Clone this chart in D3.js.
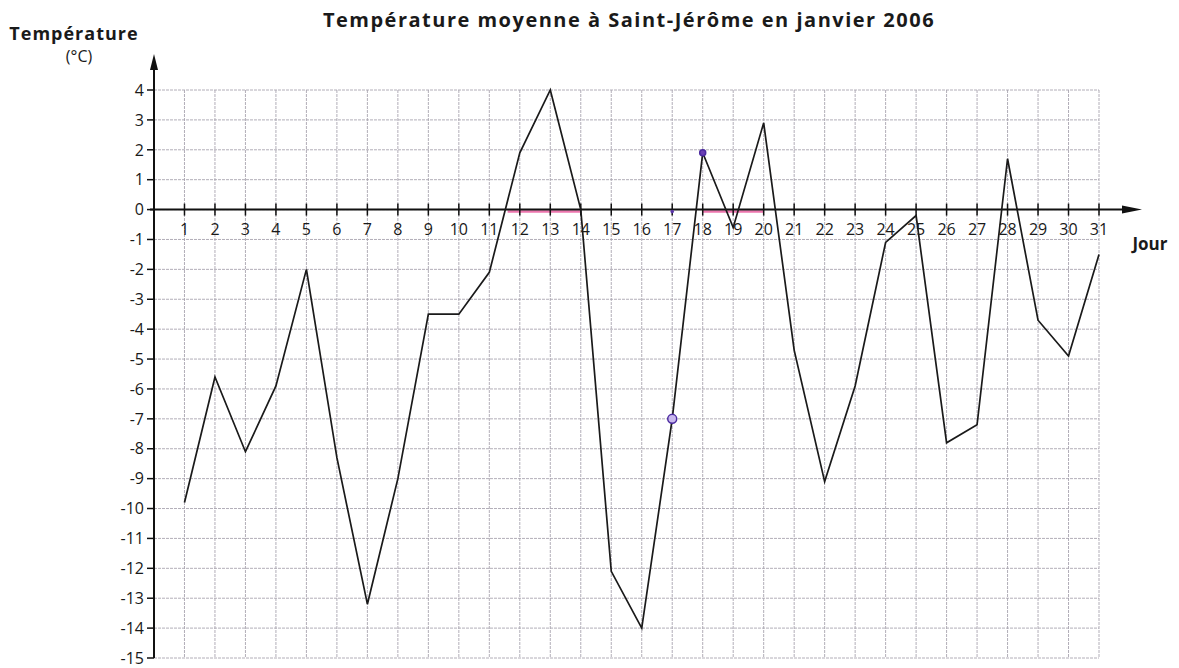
<!DOCTYPE html>
<html>
<head>
<meta charset="utf-8">
<script src="https://cdn.jsdelivr.net/npm/d3@7"></script>
<style>
  body { margin: 0; background: #fff; }
  svg { display: block; }
  text { font-family: "Open Sans", "DejaVu Sans", sans-serif; fill: #1a1a1a; }
</style>
</head>
<body>
<div id="chart"></div>
<script>
// jours du mois de janvier 2006
const days = d3.range(1, 32);
// température moyenne (°C)
const temps = [-9.8, -5.6, -8.1, -5.9, -2.0, -8.3, -13.2, -9.0, -3.5, -3.5,
  -2.1, 1.9, 4.0, 0.0, -12.1, -14.0, -7.0, 1.9, -0.6, 2.9,
  -4.7, -9.1, -5.9, -1.1, -0.2, -7.8, -7.2, 1.7, -3.7, -4.9, -1.5];
const yTicks = d3.range(-15, 5);
// traits de surligneur sur l'axe des jours
const highlights = [[11.6, 14], [18, 20]];
// points entourés
const marked = [{ day: 17, t: -7 }, { day: 18, t: 1.9 }];

const width = 1179, height = 668;
const svg = d3.select("#chart").append("svg")
  .attr("width", width).attr("height", height);

const x = d3.scaleLinear().domain([0, 31]).range([154, 1099]);
const y = d3.scaleLinear().domain([-15, 4]).range([658, 90]);

// quadrillage
const grid = svg.append("g")
  .attr("stroke", "#a9a5b0")
  .attr("stroke-width", 0.9)
  .attr("stroke-dasharray", "3,1");
grid.selectAll("line.h").data(yTicks).join("line")
  .attr("class", "h")
  .attr("x1", x(0)).attr("x2", x(31))
  .attr("y1", d => y(d)).attr("y2", d => y(d));
grid.selectAll("line.v").data(days).join("line")
  .attr("class", "v")
  .attr("x1", d => x(d)).attr("x2", d => x(d))
  .attr("y1", y(4)).attr("y2", y(-15));

// surligneur rose
svg.append("g").selectAll("line").data(highlights).join("line")
  .attr("x1", d => x(d[0])).attr("x2", d => x(d[1]))
  .attr("y1", y(0) + 2).attr("y2", y(0) + 2)
  .attr("stroke", "#e8559a").attr("stroke-width", 2.5).attr("opacity", 0.8);

// axe vertical
svg.append("line")
  .attr("x1", x(0)).attr("x2", x(0))
  .attr("y1", y(-15)).attr("y2", 62)
  .attr("stroke", "#111").attr("stroke-width", 2);
svg.append("path")
  .attr("d", `M${x(0) - 4},${70} L${x(0)},${54} L${x(0) + 4},${70} Z`)
  .attr("fill", "#111");

const yAxis = svg.append("g");
yAxis.selectAll("line").data(yTicks).join("line")
  .attr("x1", x(0) - 7).attr("x2", x(0))
  .attr("y1", d => y(d)).attr("y2", d => y(d))
  .attr("stroke", "#111").attr("stroke-width", 1.5);
yAxis.selectAll("text").data(yTicks).join("text")
  .attr("x", x(0) - 10).attr("y", d => y(d))
  .attr("dy", "0.36em")
  .attr("text-anchor", "end")
  .attr("font-size", 16)
  .text(d => d);

// axe horizontal
svg.append("line")
  .attr("x1", x(0) - 4).attr("x2", 1130)
  .attr("y1", y(0)).attr("y2", y(0))
  .attr("stroke", "#111").attr("stroke-width", 2);
svg.append("path")
  .attr("d", `M1122,${y(0) - 4} L1142,${y(0)} L1122,${y(0) + 4} Z`)
  .attr("fill", "#111");

const xAxis = svg.append("g");
xAxis.selectAll("line").data(days).join("line")
  .attr("x1", d => x(d)).attr("x2", d => x(d))
  .attr("y1", y(0) - 6).attr("y2", y(0) + 6)
  .attr("stroke", "#111").attr("stroke-width", 1.5);
xAxis.selectAll("text").data(days).join("text")
  .attr("x", d => x(d)).attr("y", y(0) + 25)
  .attr("text-anchor", "middle")
  .attr("font-size", 16)
  .text(d => d);

// courbe des températures
const line = d3.line()
  .x((d, i) => x(days[i]))
  .y(d => y(d));
svg.append("path")
  .datum(temps)
  .attr("d", line)
  .attr("fill", "none")
  .attr("stroke", "#1a1a1a")
  .attr("stroke-width", 1.7)
  .attr("stroke-linejoin", "miter");

// points marqués
svg.append("g").selectAll("circle").data(marked).join("circle")
  .attr("cx", d => x(d.day)).attr("cy", d => y(d.t))
  .attr("r", (d, i) => i === 0 ? 4.5 : 3)
  .attr("fill", (d, i) => i === 0 ? "#c9b8ee" : "#6a3fb5")
  .attr("stroke", "#4b2aa0").attr("stroke-width", 1.5);
svg.append("circle")
  .attr("cx", x(17)).attr("cy", y(0) + 2).attr("r", 1.8)
  .attr("fill", "#5b35a8");

// titres
svg.append("text")
  .attr("x", 629).attr("y", 27)
  .attr("text-anchor", "middle")
  .attr("font-size", 20).attr("font-weight", "bold")
  .attr("letter-spacing", 1.5)
  .text("Température moyenne à Saint-Jérôme en janvier 2006");
svg.append("text")
  .attr("x", 74).attr("y", 40)
  .attr("text-anchor", "middle")
  .attr("font-size", 18).attr("font-weight", "bold")
  .attr("letter-spacing", 1)
  .text("Température");
svg.append("text")
  .attr("x", 79).attr("y", 62)
  .attr("text-anchor", "middle")
  .attr("font-size", 16)
  .text("(°C)");
svg.append("text")
  .attr("x", 1150).attr("y", 250)
  .attr("text-anchor", "middle")
  .attr("font-size", 17).attr("font-weight", "bold")
  .text("Jour");
</script>
</body>
</html>
